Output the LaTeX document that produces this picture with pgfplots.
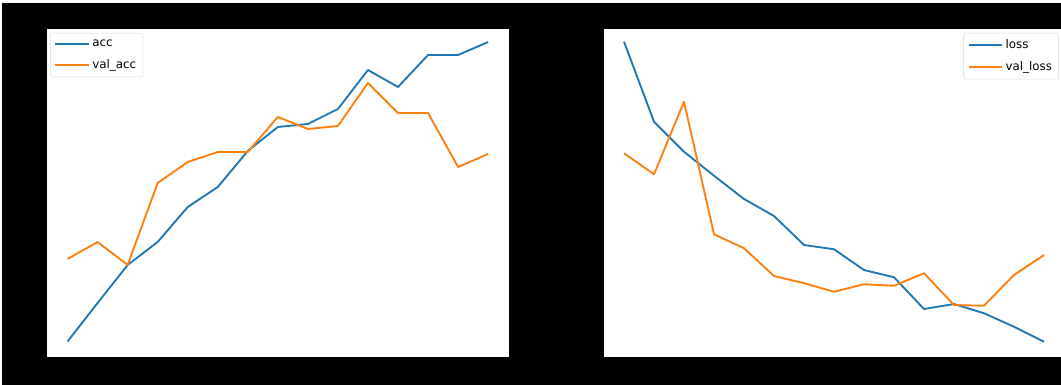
\documentclass[border=0pt]{standalone}
\usepackage{fontspec}
\setmainfont{DejaVu Sans}
\usepackage{pgfplots}
\pgfplotsset{compat=1.18}
\definecolor{tabblue}{HTML}{1F77B4}
\definecolor{taborange}{HTML}{FF7F0E}
\pgfplotsset{
  legend image code/.code={\draw[#1] (0pt,0pt) -- (20.5pt,0pt); \path (0pt,0pt) -- (25pt,0pt);},
  myax/.style={
    scale only axis, width=347pt, height=246.75pt,
    xmin=-0.7, xmax=14.7,
    xtick=\empty, ytick=\empty,
    axis line style={black, line width=0.6pt},
    axis background/.style={fill=white},
    legend cell align=left,
    legend style={draw=black!15, rounded corners=1.5pt, fill=white, font=\fontsize{8.9}{10}\selectfont,
      inner sep=3pt, row sep=4pt},
    every axis plot/.append style={line width=1.4pt, line join=round},
  }
}
\begin{document}
\begin{tikzpicture}
\begin{scope}
\clip (0pt,0pt) rectangle (795.75pt,288.75pt);
\fill[white] (0pt,0pt) rectangle (795.75pt,288.75pt);
\fill[black] (1.5pt,0pt) rectangle (795.75pt,286.5pt);
\begin{axis}[myax, at={(34.875pt,21pt)}, anchor=south west,
  ymin=0.27, ymax=0.928,
  legend style={at={(0.008,0.985)}, anchor=north west}]
\addplot[tabblue] coordinates {(0,0.301)(1,0.378)(2,0.454)(3,0.500)(4,0.570)(5,0.610)(6,0.682)(7,0.730)(8,0.736)(9,0.766)(10,0.844)(11,0.810)(12,0.874)(13,0.874)(14,0.900)};
\addlegendentry{acc}
\addplot[taborange] coordinates {(0,0.466)(1,0.500)(2,0.454)(3,0.618)(4,0.660)(5,0.680)(6,0.680)(7,0.750)(8,0.726)(9,0.732)(10,0.818)(11,0.758)(12,0.758)(13,0.650)(14,0.676)};
\addlegendentry{val\_acc}
\end{axis}
\begin{axis}[myax, at={(452.25pt,21pt)}, anchor=south west, width=346.5pt,
  ymin=0.14, ymax=1.456,
  legend style={at={(0.987,0.985)}, anchor=north east}]
\addplot[tabblue] coordinates {(0,1.401)(1,1.081)(2,0.961)(3,0.865)(4,0.772)(5,0.704)(6,0.588)(7,0.571)(8,0.488)(9,0.459)(10,0.332)(11,0.352)(12,0.315)(13,0.261)(14,0.201)};
\addlegendentry{loss}
\addplot[taborange] coordinates {(0,0.955)(1,0.871)(2,1.161)(3,0.631)(4,0.575)(5,0.464)(6,0.435)(7,0.401)(8,0.431)(9,0.425)(10,0.475)(11,0.348)(12,0.345)(13,0.468)(14,0.548)};
\addlegendentry{val\_loss}
\end{axis}
\end{scope}
\pgfresetboundingbox
\path[use as bounding box] (0pt,0pt) rectangle (795.75pt,288.75pt);
\end{tikzpicture}
\end{document}
